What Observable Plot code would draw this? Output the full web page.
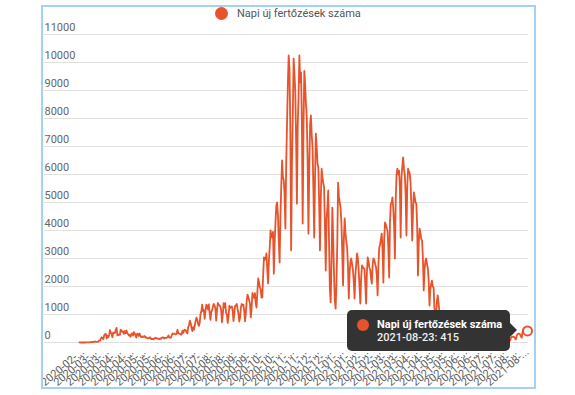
<!DOCTYPE html>
<html><head><meta charset="utf-8">
<script src="https://cdn.jsdelivr.net/npm/d3@7"></script>
<script src="https://cdn.jsdelivr.net/npm/@observablehq/plot@0.6"></script>
<style>
html,body{margin:0;padding:0;background:#fff;}
body{width:575px;height:395px;position:relative;overflow:hidden;font-family:Roboto,"Noto Sans",sans-serif;}
#frame{position:absolute;left:41px;top:5px;width:491px;height:380px;border:2px solid #a5d2f1;overflow:hidden;background:#fff;}
#chart{position:absolute;left:0;top:0;}
#legend{position:absolute;left:172px;top:0px;display:flex;align-items:center;height:13px;font-size:11px;color:#555;white-space:nowrap;}
#legend .sw{width:13px;height:13px;border-radius:50%;margin-right:9px;}
#tip{position:absolute;left:304px;top:303px;width:163px;height:41px;background:#333;border-radius:5px;color:#fff;font-size:11px;}
#tip .arrow{position:absolute;right:-7px;top:13px;width:0;height:0;border-top:7px solid transparent;border-bottom:7px solid transparent;border-left:7px solid #333;}
#tip .sw{position:absolute;left:10px;top:9px;width:12px;height:12px;border-radius:50%;}
#tip .l1{position:absolute;left:30px;top:8px;font-weight:bold;white-space:nowrap;}
#tip .l2{position:absolute;left:30px;top:21px;font-weight:500;white-space:nowrap;color:#eee;}
</style>
</head><body>
<div id="frame">
  <div id="chart"></div>
  <div id="legend"><div class="sw"></div><span id="legtext"></span></div>
  <div id="tip"><div class="arrow"></div><div class="sw"></div><div class="l1"></div><div class="l2"></div></div>
</div>
<script>
const seriesName = "Napi új fertőzések száma";
const lineColor = "#e8532b";
const startDate = "2020-02-26";
// daily new cases, one value per day from startDate
const cases = [
1,0,2,0,0,
0,0,0,1,2,3,3,
2,2,17,10,19,15,29,
36,19,26,29,31,66,65,
143,186,144,123,263,293,308,
139,245,192,269,445,344,305,
190,360,340,342,441,523,256,
264,287,271,456,425,379,396,
307,405,330,433,343,299,251,
270,205,308,326,250,369,327,
249,177,317,306,234,321,231,
190,219,196,215,233,178,191,
148,149,146,184,183,120,125,
128,113,147,169,152,153,141,
137,119,145,129,174,179,181,
143,168,160,177,182,255,184,
171,170,256,320,310,320,299,
293,320,460,325,321,313,280,
285,426,343,438,460,424,358,
322,555,614,777,698,530,409,
551,458,616,767,889,818,681,
593,707,1030,1120,1350,1120,1153,
841,1151,1356,1295,1182,1358,1060,
807,1101,1145,1286,1378,1319,1215,
783,1171,1415,1346,1330,1287,1158,
723,1001,1409,1246,1409,1060,1001,
697,952,1312,1240,1251,1291,1144,
763,1059,1311,1328,1373,1189,1038,
750,898,1241,1380,1326,1352,1136,
751,1059,1481,1713,1617,1510,1390,
900,1230,1767,1650,1600,1764,1400,
1250,1800,2290,2158,1958,1900,1600,
1610,2400,3040,2950,3000,3180,2600,
2110,2950,3400,4000,3800,3750,3950,
2460,3600,4300,4890,5000,4500,3600,
2860,4500,5600,6500,5900,5800,5300,
4070,6400,7800,9200,10250,9800,7600,
3290,6400,8100,10140,9600,9000,7300,
4960,7700,8800,10250,9290,9640,8000,
4250,7700,9700,9200,8500,8040,6500,
3890,6200,7800,8110,7400,6960,5500,
3750,5900,7460,7000,6400,6250,5000,
3290,5100,6210,5900,5700,5540,4200,
2570,4400,4800,5430,3600,1900,1430,
2800,4820,3800,2500,1500,1210,2100,
3500,5710,5200,5000,4820,4300,3300,
2040,3700,4430,3900,3600,3390,2700,
1570,2500,2900,3000,2800,2600,2200,
1570,2400,2800,3180,3000,2600,2000,
1390,2300,2750,2700,2650,2640,2100,
1390,2500,3040,2900,2680,2600,2300,
2100,2800,3000,2950,2800,2700,2400,
1680,2800,3390,3500,3700,3890,3300,
2140,3700,4290,4200,4100,4000,3400,
2320,4300,4960,5000,5180,4800,4200,
3000,5100,6000,6210,6000,6140,5600,
3750,5900,6300,6610,6200,6000,5300,
3820,5600,6210,6100,6040,5700,4900,
3640,4700,5360,5200,5000,4960,4200,
2390,3600,4070,3900,3700,3640,3000,
1860,2600,2900,3000,2800,2640,2200,
1320,1900,2100,2210,2000,1960,1200,
1140,900,1480,1680,1400,1140,800,
420,720,900,840,760,620,520,
240,430,520,480,460,390,300,
150,270,330,300,280,250,180,
85,160,210,190,180,150,110,
60,120,150,140,120,100,80,
40,80,100,90,85,70,55,
30,60,75,70,65,55,40,
25,50,60,55,50,45,35,
20,45,55,60,50,45,35,
25,60,75,70,70,60,45,
35,80,95,100,95,85,60,
45,110,130,140,135,120,90,
70,170,200,210,200,190,140,
110,250,300,320,310,290,220,
170,390,470,500,490,450,330,
415
];
const tickDates = ["2020-02-26","2020-03-12","2020-03-27","2020-04-11","2020-04-26","2020-05-11","2020-05-26","2020-06-10","2020-06-25","2020-07-10","2020-07-25","2020-08-09","2020-08-24","2020-09-08","2020-09-23","2020-10-08","2020-10-23","2020-11-07","2020-11-22","2020-12-07","2020-12-22","2021-01-06","2021-01-21","2021-02-05","2021-02-20","2021-03-07","2021-03-22","2021-04-06","2021-04-21","2021-05-06","2021-05-21","2021-06-05","2021-06-20","2021-07-05","2021-07-20","2021-08-04","2021-08-19"];
const yTicks = [0,1000,2000,3000,4000,5000,6000,7000,8000,9000,10000,11000];

const t0 = new Date(startDate + "T00:00:00Z");
const data = cases.map((v, i) => ({date: new Date(t0.getTime() + i * 864e5), value: v}));
const last = data[data.length - 1];
const fmtTick = d3.utcFormat("%Y-%m-");
const fmtDay = d3.utcFormat("%Y-%m-%d");

const chart = Plot.plot({
  width: 491, height: 380,
  marginLeft: 36, marginRight: 7, marginTop: 27, marginBottom: 45,
  style: {fontFamily: "Roboto, sans-serif", fontSize: "11px", color: "#666", background: "transparent"},
  x: {type: "utc", domain: [data[0].date, last.date], label: null},
  y: {domain: [0, 11000], label: null},
  marks: [
    Plot.ruleY(yTicks, {stroke: "#e0e0e0", strokeWidth: 1, insetLeft: -35, insetRight: -1}),
    Plot.axisY(yTicks, {tickSize: 0, tickPadding: 0, textAnchor: "start", dx: -35, dy: -7, fill: "#666", fontSize: 11, tickFormat: d => String(d)}),
    Plot.axisX(tickDates.map(s => new Date(s + "T00:00:00Z")), {
      tickSize: 0, tickPadding: 0, tickRotate: -40, textAnchor: "end", lineAnchor: "middle",
      tickFormat: d => fmtTick(d) + "...", dx: 3, dy: 8, fill: "#5a5a5a", fontSize: 11
    }),
    Plot.line(data, {x: "date", y: "value", stroke: lineColor, strokeWidth: 1.8}),
    Plot.dot([last], {x: "date", y: "value", r: 4.5, fill: "white", stroke: lineColor, strokeWidth: 2})
  ]
});
document.getElementById("chart").appendChild(chart);
document.getElementById("legtext").textContent = seriesName;
document.querySelectorAll(".sw").forEach(e => e.style.background = lineColor);
document.querySelector("#tip .l1").textContent = seriesName;
document.querySelector("#tip .l2").textContent = fmtDay(last.date) + ": " + last.value;
</script>
</body></html>
